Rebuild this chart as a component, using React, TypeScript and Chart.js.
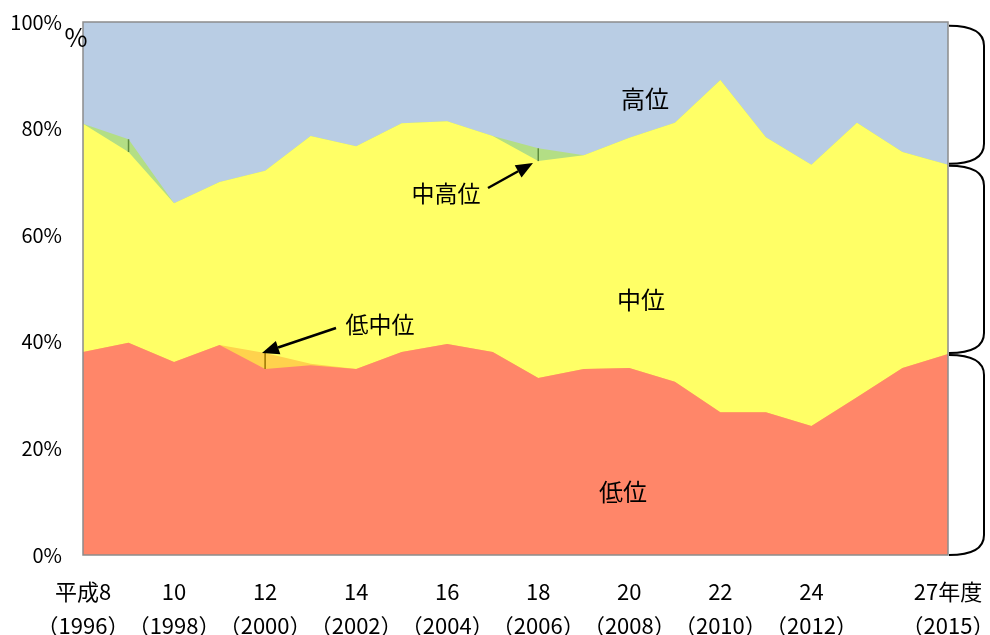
import React, { useEffect, useRef } from "react";
import { Chart, registerables } from "chart.js";

Chart.register(...registerables);

const categories: (string | string[])[] = [
  ["平成8", "（1996）"], "", ["10", "（1998）"], "", ["12", "（2000）"], "",
  ["14", "（2002）"], "", ["16", "（2004）"], "", ["18", "（2006）"], "",
  ["20", "（2008）"], "", ["22", "（2010）"], "", ["24", "（2012）"], "", "",
  ["27年度", "（2015）"],
];

const lowData = [38.1, 39.8, 36.2, 39.4, 34.9, 35.6, 34.9, 38.1, 39.6, 38.1, 33.2, 34.9, 35.1, 32.5, 26.8, 26.8, 24.2, 29.6, 35.1, 37.7];
const lowMidData = [0, 0, 0, 0, 3.0, 0.3, 0, 0, 0, 0, 0, 0, 0, 0, 0, 0, 0, 0, 0, 0];
const midData = [42.8, 35.8, 29.8, 30.6, 34.2, 42.7, 41.8, 42.9, 41.8, 40.5, 40.7, 40.1, 43.2, 48.6, 62.3, 51.6, 49.0, 51.5, 40.5, 35.5];
const midHighData = [0, 2.4, 0, 0, 0, 0, 0, 0, 0, 0, 2.4, 0, 0, 0, 0, 0, 0, 0, 0, 0];
const highData = [19.1, 22.0, 34.0, 30.0, 27.9, 21.4, 23.3, 19.0, 18.6, 21.4, 23.7, 25.0, 21.7, 18.9, 10.9, 21.6, 26.8, 18.9, 24.4, 26.8];

const yTicks = [0, 20, 40, 60, 80, 100];

const FONT = '"Noto Sans CJK JP", "Noto Sans", sans-serif';

function drawArrow(ctx: CanvasRenderingContext2D, x1: number, y1: number, x2: number, y2: number) {
  const ang = Math.atan2(y2 - y1, x2 - x1);
  const headLen = 17;
  const headW = 7;
  const bx = x2 - headLen * Math.cos(ang);
  const by = y2 - headLen * Math.sin(ang);
  ctx.save();
  ctx.strokeStyle = "#000";
  ctx.fillStyle = "#000";
  ctx.lineWidth = 2.5;
  ctx.beginPath();
  ctx.moveTo(x1, y1);
  ctx.lineTo(bx, by);
  ctx.stroke();
  ctx.beginPath();
  ctx.moveTo(x2, y2);
  ctx.lineTo(bx + headW * Math.sin(ang), by - headW * Math.cos(ang));
  ctx.lineTo(bx - headW * Math.sin(ang), by + headW * Math.cos(ang));
  ctx.closePath();
  ctx.fill();
  ctx.restore();
}

function drawBracket(ctx: CanvasRenderingContext2D, x0: number, yTop: number, yBot: number) {
  const w = 35;
  const r = 20;
  ctx.save();
  ctx.strokeStyle = "#000";
  ctx.lineWidth = 2;
  ctx.beginPath();
  ctx.moveTo(x0, yTop);
  ctx.bezierCurveTo(x0 + w * 0.75, yTop, x0 + w, yTop + r * 0.4, x0 + w, yTop + r);
  ctx.lineTo(x0 + w, yBot - r);
  ctx.bezierCurveTo(x0 + w, yBot - r * 0.4, x0 + w * 0.75, yBot, x0, yBot);
  ctx.stroke();
  ctx.restore();
}

const extrasPlugin = {
  id: "extras",
  afterDatasetsDraw(chart: any) {
    const ctx: CanvasRenderingContext2D = chart.ctx;
    const xs = chart.scales.x;
    const ys = chart.scales.y;
    const area = chart.chartArea;

    const drawEdge = (i: number, bottom: number, top: number, color: string) => {
      const x = xs.getPixelForValue(i);
      ctx.save();
      ctx.strokeStyle = color;
      ctx.lineWidth = 1.5;
      ctx.beginPath();
      ctx.moveTo(x, ys.getPixelForValue(bottom));
      ctx.lineTo(x, ys.getPixelForValue(top));
      ctx.stroke();
      ctx.restore();
    };
    for (let i = 0; i < categories.length; i++) {
      if (lowMidData[i] >= 1) {
        const b = lowData[i];
        drawEdge(i, b, b + lowMidData[i], "#9a7400");
      }
      if (midHighData[i] >= 1) {
        const b = lowData[i] + lowMidData[i] + midData[i];
        drawEdge(i, b, b + midHighData[i], "#5e8c3c");
      }
    }

    ctx.save();
    ctx.strokeStyle = "#8c8c8c";
    ctx.lineWidth = 1.5;
    ctx.strokeRect(area.left, area.top, area.right - area.left, area.bottom - area.top);
    ctx.restore();
  },
  afterDraw(chart: any) {
    const ctx: CanvasRenderingContext2D = chart.ctx;
    const ys = chart.scales.y;
    const area = chart.chartArea;
    const last = categories.length - 1;

    ctx.save();
    ctx.fillStyle = "#000";
    ctx.textAlign = "center";
    ctx.textBaseline = "middle";
    ctx.font = `24px ${FONT}`;
    ctx.fillText("高位", 645, 99);
    ctx.fillText("中位", 641, 300);
    ctx.fillText("低位", 623, 492);
    ctx.font = `23px ${FONT}`;
    ctx.fillText("中高位", 446, 193);
    ctx.fillText("低中位", 380, 324);
    ctx.font = `25px ${FONT}`;
    ctx.fillText("%", 76, 37);
    ctx.restore();

    drawArrow(ctx, 488, 188, 533, 163);
    drawArrow(ctx, 336, 328, 262, 353);

    const v1 = 100 - highData[last];
    const v2 = lowData[last];
    const x0 = area.right + 1;
    drawBracket(ctx, x0, ys.getPixelForValue(99.3), ys.getPixelForValue(v1) - 1);
    drawBracket(ctx, x0, ys.getPixelForValue(v1) + 1, ys.getPixelForValue(v2) - 1);
    drawBracket(ctx, x0, ys.getPixelForValue(v2) + 1, ys.getPixelForValue(0));
  },
};

export default function App() {
  const ref = useRef<HTMLCanvasElement | null>(null);

  useEffect(() => {
    if (!ref.current) return;
    const chart = new Chart(ref.current, {
      type: "line",
      data: {
        labels: categories,
        datasets: [
          { label: "低位", data: lowData, backgroundColor: "#FF8669", fill: "origin" },
          { label: "低中位", data: lowMidData, backgroundColor: "#FFD24D", fill: "origin" },
          { label: "中位", data: midData, backgroundColor: "#FFFF66", fill: "origin" },
          { label: "中高位", data: midHighData, backgroundColor: "#B3DE85", fill: "origin" },
          { label: "高位", data: highData, backgroundColor: "#B9CDE4", fill: "origin" },
        ].map((d) => ({ ...d, borderWidth: 0, borderColor: "transparent", pointRadius: 0, pointHoverRadius: 0, tension: 0 })),
      },
      options: {
        responsive: false,
        animation: false,
        devicePixelRatio: 1,
        layout: { padding: { left: 0, right: 42, top: 22, bottom: 0 } },
        plugins: {
          legend: { display: false },
          tooltip: { enabled: false },
        },
        events: [],
        scales: {
          x: {
            type: "category",
            offset: false,
            grid: { display: false, drawTicks: false },
            border: { display: false },
            ticks: {
              autoSkip: false,
              maxRotation: 0,
              minRotation: 0,
              padding: 19,
              color: "#000",
              font: { family: FONT, size: 22, lineHeight: 1.58 },
            },
            afterFit: (s: any) => {
              s.height = 80;
              s.paddingLeft = 0;
              s.paddingRight = 0;
            },
          },
          y: {
            type: "linear",
            stacked: true,
            min: 0,
            max: 100,
            grid: { display: false, drawTicks: false },
            border: { display: false },
            afterBuildTicks: (s: any) => { s.ticks = yTicks.map((v) => ({ value: v })); },
            ticks: {
              padding: 21,
              color: "#000",
              font: { family: FONT, size: 20 },
              callback: (v: any) => `${v}%`,
            },
            afterFit: (s: any) => {
              s.width = 83;
              s.paddingTop = 0;
              s.paddingBottom = 0;
            },
          },
        },
      },
      plugins: [extrasPlugin],
    });
    return () => chart.destroy();
  }, []);

  return (
    <div style={{ position: "absolute", left: 0, top: 0, width: 990, height: 635, background: "#fff" }}>
      <canvas ref={ref} width={990} height={635} style={{ display: "block", width: 990, height: 635 }} />
    </div>
  );
}
